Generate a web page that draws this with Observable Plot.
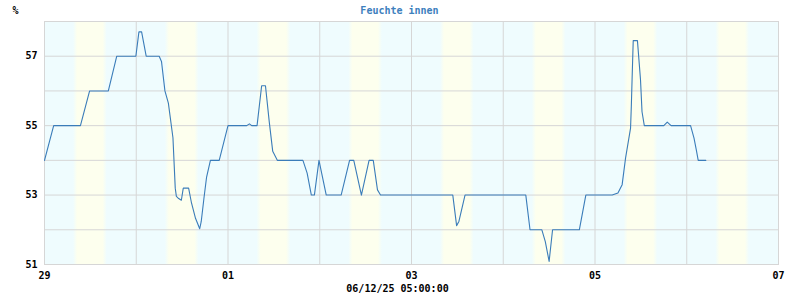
<!DOCTYPE html>
<html>
<head>
<meta charset="utf-8">
<script src="https://cdn.jsdelivr.net/npm/d3@7"></script>
<script src="https://cdn.jsdelivr.net/npm/@observablehq/plot@0.6"></script>
<style>
  html, body { margin: 0; padding: 0; background: #ffffff; }
  #chart { width: 800px; height: 300px; }
</style>
</head>
<body>
<div id="chart"></div>
<script>
// ---- data ----
const startDate = "2025-06-29T00:00:00Z";
const endDate = "2025-07-07T00:00:00Z";
// hours since start (Jun 29 00:00)
const hours = [0, 2.4, 9.4, 11.8, 16.7, 18.9, 23.9, 24.7, 25.4, 26.6,
  30.0, 30.6, 31.5, 32.4, 33.6, 34.2, 34.5, 35.1, 35.8, 36.3,
  37.7, 38.4, 39.5, 40.6, 41.0, 41.7, 42.4, 43.4, 45.7, 48.0,
  52.9, 53.6, 54.2, 55.6, 56.8, 57.8, 58.8, 59.7, 60.9, 67.6,
  68.7, 69.8, 70.6, 71.8, 73.7, 77.6, 79.8, 80.9, 82.9, 84.9,
  86.0, 87.1, 87.9, 106.8, 107.8, 108.4, 110.0, 125.9, 127.0, 130.1,
  131.0, 132.0, 132.9, 139.9, 141.6, 148.5, 150.0, 151.1, 152.0, 153.3,
  153.5, 153.7, 154.0, 155.1, 155.9, 156.3, 156.9, 162.0, 162.9, 163.9,
  169.0, 169.9, 170.5, 171.0, 173.0];
// humidity in %
const humidity = [54, 55, 55, 56, 56, 57, 57, 57.7, 57.7, 57,
  57, 56.85, 56, 55.65, 54.65, 53.2, 52.96, 52.9, 52.85, 53.2,
  53.2, 52.8, 52.33, 52.03, 52.24, 52.9, 53.52, 54, 54, 55,
  55, 55.05, 55, 55, 56.15, 56.15, 55.1, 54.26, 54, 54,
  53.63, 53, 53, 54, 53, 53, 54, 54, 53, 54,
  54, 53.15, 53, 53, 52.12, 52.24, 53, 53, 52, 52,
  51.66, 51.09, 52, 52, 53, 53, 53.06, 53.3, 54.07, 54.93,
  55.56, 56.33, 57.45, 57.45, 56.33, 55.4, 55, 55, 55.1, 55,
  55, 54.64, 54.3, 54, 54];
const yTicks = [51, 53, 55, 57];
const yGrid = [51, 52, 53, 54, 55, 56, 57, 58];
const xTickDays = ["2025-06-29", "2025-07-01", "2025-07-03", "2025-07-05", "2025-07-07"];
const gridDays = ["2025-06-29", "2025-06-30", "2025-07-01", "2025-07-02", "2025-07-03", "2025-07-04", "2025-07-05", "2025-07-06", "2025-07-07"];
const dayBandStart = 7.6; // hour of day, light (yellow) band
const dayBandEnd = 16.4;
const title = "Feuchte innen";
const unitLabel = "%";
const footer = "06/12/25 05:00:00";

// ---- build ----
const t0 = new Date(startDate).getTime();
const series = hours.map((h, i) => ({date: new Date(t0 + h * 3600e3), value: humidity[i]}));
const bands = gridDays.slice(0, 8).map(d => {
  const base = new Date(d + "T00:00:00Z").getTime();
  return {x1: new Date(base + dayBandStart * 3600e3), x2: new Date(base + dayBandEnd * 3600e3)};
});

const gridColor = "#d6d6d6";
const lineColor = "#3a7cb9";

const chart = Plot.plot({
  width: 800,
  height: 300,
  marginLeft: 44,
  marginRight: 22,
  marginTop: 21,
  marginBottom: 36,
  style: {fontFamily: "'DejaVu Sans Mono', monospace", fontSize: "10px", fontWeight: "bold", background: "#ffffff", color: "#000"},
  x: {type: "utc", domain: [new Date(startDate), new Date(endDate)], label: null},
  y: {domain: [51, 58], label: null},
  marks: [
    Plot.frame({fill: "#effcfe", stroke: "none"}),
    Plot.rectX(bands, {x1: "x1", x2: "x2", y1: 51, y2: 58, fill: "url(#dayband)"}),
    Plot.gridY(yGrid, {stroke: gridColor, strokeOpacity: 1}),
    Plot.gridX(gridDays.map(d => new Date(d + "T00:00:00Z")), {stroke: gridColor, strokeOpacity: 1}),
    Plot.frame({stroke: gridColor, strokeOpacity: 1}),
    Plot.axisY(yTicks, {tickSize: 0, tickPadding: 7, label: null, fontWeight: "bold", fill: "#000"}),
    Plot.axisX(xTickDays.map(d => new Date(d + "T00:00:00Z")), {tickSize: 0, tickPadding: 7, label: null, tickFormat: d3.utcFormat("%d"), fontWeight: "bold", fill: "#000"}),
    Plot.line(series, {x: "date", y: "value", stroke: lineColor, strokeWidth: 1.1, curve: "linear"}),
    Plot.text([title], {frameAnchor: "top", dx: -12, dy: -15, fill: "#3d80bd", fontWeight: "bold", fontSize: 10}),
    Plot.text([unitLabel], {frameAnchor: "top-left", dx: -32, dy: -15, fill: "#000", fontWeight: "bold", fontSize: 10}),
    Plot.text([footer], {frameAnchor: "bottom", dx: -14, dy: 27.5, fill: "#000", fontWeight: "bold", fontSize: 10})
  ]
});

// gradient used by the day bands
const ns = "http://www.w3.org/2000/svg";
const defs = document.createElementNS(ns, "defs");
defs.innerHTML = `<linearGradient id="dayband" x1="0" x2="1" y1="0" y2="0">
  <stop offset="0" stop-color="#effcfe"/>
  <stop offset="0.12" stop-color="#fdffee"/>
  <stop offset="0.88" stop-color="#fdffee"/>
  <stop offset="1" stop-color="#effcfe"/>
</linearGradient>`;
chart.insertBefore(defs, chart.firstChild);

document.getElementById("chart").appendChild(chart);
</script>
</body>
</html>
